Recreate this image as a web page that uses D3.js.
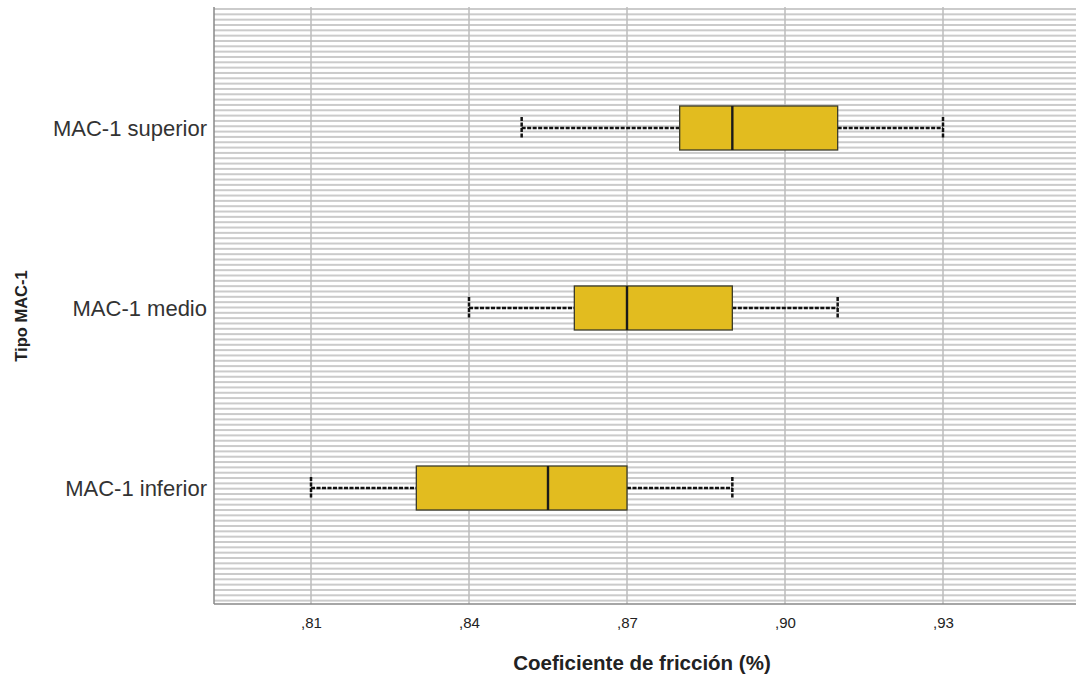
<!DOCTYPE html>
<html><head><meta charset="utf-8">
<script src="https://cdn.jsdelivr.net/npm/d3@7"></script>
<style>body{margin:0;background:#fff}svg{display:block}</style>
</head><body>
<svg id="c" width="1076" height="678"></svg>
<script>
const categories = ["MAC-1 superior", "MAC-1 medio", "MAC-1 inferior"];
const whiskerLow  = [0.85, 0.84, 0.81];
const q1Values    = [0.88, 0.86, 0.83];
const medians     = [0.89, 0.87, 0.855];
const q3Values    = [0.91, 0.89, 0.87];
const whiskerHigh = [0.93, 0.91, 0.89];
const tickValues  = [0.81, 0.84, 0.87, 0.90, 0.93];
const xTitle = "Coeficiente de fricción (%)";
const yTitle = "Tipo MAC-1";

(function () {
const svg = d3.select("#c");
const pL = 214, pR = 1076, pT = 7, pB = 604;
const x = d3.scaleLinear().domain([0.81, 0.93]).range([311, 943]);
const y = d3.scalePoint().domain(categories).range([128, 488]);
const font = "Liberation Sans, Arial, sans-serif";

// background stripes
const stripes = svg.append("g");
for (let yy = pT + 1; yy < pB - 1; yy += 5.33) {
  stripes.append("rect").attr("x", pL).attr("y", yy).attr("width", pR - pL).attr("height", 2).attr("fill", "#cbcbcb");
}
// vertical grid
svg.append("g").selectAll("line").data(tickValues).join("line")
  .attr("x1", d => x(d)).attr("x2", d => x(d)).attr("y1", pT).attr("y2", pB)
  .attr("stroke", "#bdbdbd").attr("stroke-width", 1.5);
// left axis line
svg.append("line").attr("x1", pL).attr("x2", pL).attr("y1", pT).attr("y2", pB).attr("stroke", "#888").attr("stroke-width", 1.5);

// x axis
const fmt = d => d3.format(".2f")(d).replace(/^0\./, ",");
const xAxis = d3.axisBottom(x).tickValues(tickValues).tickFormat(fmt).tickSize(0).tickPadding(13);
const gx = svg.append("g").attr("transform", `translate(0,${pB})`).call(xAxis);
gx.select(".domain").remove();
gx.append("line").attr("x1", pL).attr("x2", pR).attr("stroke", "#888").attr("stroke-width", 1.5);
gx.selectAll("text").attr("font-family", font).attr("font-size", 15).attr("fill", "#222");

// y axis labels
const yAxis = d3.axisLeft(y).tickSize(0).tickPadding(7);
const gy = svg.append("g").attr("transform", `translate(${pL},0)`).call(yAxis);
gy.select(".domain").remove();
gy.selectAll("text").attr("font-family", font).attr("font-size", 22).attr("fill", "#333");

// boxes
const bh = 44, capH = 22;
const data = categories.map((c, i) => ({c, lo: whiskerLow[i], q1: q1Values[i], med: medians[i], q3: q3Values[i], hi: whiskerHigh[i]}));
const g = svg.append("g").selectAll("g").data(data).join("g");
const dash = "4,1.5";
g.append("line").attr("x1", d => x(d.lo)).attr("x2", d => x(d.q1)).attr("y1", d => y(d.c)).attr("y2", d => y(d.c))
  .attr("stroke", "#111").attr("stroke-width", 2.5).attr("stroke-dasharray", dash);
g.append("line").attr("x1", d => x(d.q3)).attr("x2", d => x(d.hi)).attr("y1", d => y(d.c)).attr("y2", d => y(d.c))
  .attr("stroke", "#111").attr("stroke-width", 2.5).attr("stroke-dasharray", dash);
["lo", "hi"].forEach(k => {
  g.append("line").attr("x1", d => x(d[k])).attr("x2", d => x(d[k]))
    .attr("y1", d => y(d.c) - capH / 2).attr("y2", d => y(d.c) + capH / 2)
    .attr("stroke", "#111").attr("stroke-width", 2.5).attr("stroke-dasharray", dash);
});
g.append("rect").attr("x", d => x(d.q1)).attr("width", d => x(d.q3) - x(d.q1))
  .attr("y", d => y(d.c) - bh / 2).attr("height", bh)
  .attr("fill", "#E2BC1F").attr("stroke", "#3a3a2a").attr("stroke-width", 1.3);
g.append("line").attr("x1", d => x(d.med)).attr("x2", d => x(d.med))
  .attr("y1", d => y(d.c) - bh / 2).attr("y2", d => y(d.c) + bh / 2)
  .attr("stroke", "#1a1a1a").attr("stroke-width", 2.4);

// titles
svg.append("text").attr("x", 642).attr("y", 670).attr("text-anchor", "middle")
  .attr("font-family", font).attr("font-weight", "bold").attr("font-size", 20.5).attr("fill", "#222").text(xTitle);
svg.append("text").attr("transform", "translate(27,316) rotate(-90)").attr("text-anchor", "middle")
  .attr("font-family", font).attr("font-weight", "bold").attr("font-size", 16.5).attr("fill", "#222").text(yTitle);
})();
</script>
</body></html>
